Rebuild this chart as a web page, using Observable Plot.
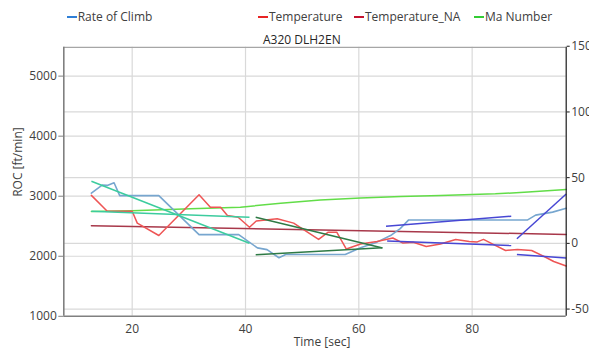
<!DOCTYPE html>
<html><head><meta charset="utf-8">
<script src="https://cdn.jsdelivr.net/npm/d3@7"></script>
<script src="https://cdn.jsdelivr.net/npm/@observablehq/plot@0.6"></script>
<style>
body{margin:0;background:#fff;font-family:"Open Sans",sans-serif;}
#wrap{position:relative;width:589px;height:354px;overflow:hidden;background:#fff;}
#head{position:relative;height:44px;}
.lg{position:absolute;top:8px;font-size:12px;color:#404040;line-height:18px;white-space:nowrap;}
.lg i{display:inline-block;width:10px;height:2px;vertical-align:middle;margin-right:1px;position:relative;top:-1px;}
#title{position:absolute;top:31px;left:263px;font-size:12px;color:#262626;line-height:18px;white-space:nowrap;}
</style></head>
<body>
<div id="wrap">
  <div id="head"></div>
  <div id="chart"></div>
</div>
<script>
// ---------- data ----------
const seriesNames = ["Rate of Climb", "Temperature", "Temperature_NA", "Ma Number"];
const chartTitle = "A320 DLH2EN";
const xLabel = "Time [sec]";
const yLabel = "ROC [ft/min]";

const timeDomain = [7.93, 96.6];
const leftDomain = [1000, 5480];     // ROC [ft/min]
const rightDomain = [-55.5, 149.2];  // right axis units
const xTicks = [20, 40, 60, 80];
const leftTicks = [1000, 2000, 3000, 4000, 5000];
const rightTicks = [-50, 0, 50, 100, 150];

// Rate of Climb (left axis)
const rocTime  = [12.8, 14.7, 15.6, 16.8, 17.8, 24.7, 31.8, 38.8, 42.1, 43.8, 45.9, 47.1, 57.6, 60.3, 63.2, 65.6, 67.3, 68.8, 89.8, 91.2, 94.2, 96.6];
const rocValue = [3050, 3185, 3180, 3225, 3010, 3010, 2360, 2360, 2140, 2110, 1975, 2030, 2030, 2140, 2235, 2345, 2460, 2605, 2605, 2685, 2735, 2800];

// Temperature (right axis)
const tempTime  = [12.8, 15.6, 20.0, 20.9, 24.7, 31.8, 33.8, 35.6, 36.8, 38.7, 40.7, 41.9, 45.6, 48.5, 52.9, 54.6, 56.1, 57.8, 60.3, 63.2, 66.0, 67.8, 69.6, 71.9, 74.4, 77.1, 79.5, 80.9, 82.0, 83.9, 85.9, 88.0, 90.5, 92.8, 94.4, 96.6];
const tempValue = [36.5, 24.5, 24.5, 15.4, 6.0, 37.0, 27.5, 27.5, 21.2, 19.9, 12.3, 17.0, 18.7, 15.4, 3.0, 8.5, 8.5, -4.3, -0.5, 1.4, 4.1, 0.2, 0.9, -2.4, -0.5, 3.0, 1.4, 1.1, 3.0, -1.2, -5.4, -4.6, -5.4, -10.2, -13.8, -17.2];

// Temperature_NA (right axis)
const tempNATime  = [12.8, 96.6];
const tempNAValue = [13.4, 6.8];

// Ma Number (right axis)
const maTime  = [12.8, 20.0, 30.3, 39.1, 46.2, 53.2, 60.3, 67.4, 74.4, 84.1, 89.9, 96.6];
const maValue = [24.3, 24.8, 26.3, 27.5, 30.6, 33.0, 34.5, 35.7, 36.5, 37.7, 39.0, 41.0];

// segment trend lines (left axis)
const trendKind  = ["teal", "teal", "darkgreen", "darkgreen", "blue", "blue", "blue", "blue"];
const trendT0    = [12.8, 12.8, 41.8, 41.8, 64.8, 65.0, 87.9, 87.9];
const trendV0    = [3250, 2750, 2650, 2024, 2500, 2254, 2291, 2029];
const trendT1    = [40.7, 40.7, 64.2, 64.1, 86.9, 86.9, 96.6, 96.6];
const trendV1    = [2217, 2650, 2138, 2141, 2667, 2179, 3037, 1971];

// ---------- styles ----------
const legendColors = ["#2f7fd6", "#e82424", "#c4122e", "#33cc33"];
const lineColors = {roc: "#77a6cf", temp: "#ee5555", tempNA: "#a8384a", ma: "#62dd48"};
const trendColors = {teal: "#3ccc9e", darkgreen: "#2e7a45", blue: "#4747d4"};
const legendX = [66.7, 258, 354, 474];

// ---------- header (legend + title) ----------
const head = document.getElementById("head");
seriesNames.forEach((n, i) => {
  const d = document.createElement("div");
  d.className = "lg";
  d.style.left = legendX[i] + "px";
  d.innerHTML = `<i style="background:${legendColors[i]}"></i>${n}`;
  head.appendChild(d);
});
const tt = document.createElement("div");
tt.id = "title"; tt.textContent = chartTitle;
head.appendChild(tt);

// ---------- chart ----------
const toLeft = d3.scaleLinear().domain(rightDomain).range(leftDomain);
const roc = rocTime.map((t, i) => ({t, v: rocValue[i]}));
const temp = tempTime.map((t, i) => ({t, v: toLeft(tempValue[i])}));
const tempNA = tempNATime.map((t, i) => ({t, v: toLeft(tempNAValue[i])}));
const ma = maTime.map((t, i) => ({t, v: toLeft(maValue[i])}));
const trends = trendKind.map((k, i) => ({k, t0: trendT0[i], v0: trendV0[i], t1: trendT1[i], v1: trendV1[i]}));

const gridStyle = {stroke: "#d9d9d9", strokeOpacity: 1, strokeWidth: 1.2};
const trendMarks = Object.keys(trendColors).map(k =>
  Plot.link(trends.filter(d => d.k === k), {x1: "t0", y1: "v0", x2: "t1", y2: "v1", stroke: trendColors[k], strokeWidth: 1.5})
);

const chart = Plot.plot({
  width: 589, height: 310,
  marginTop: 2.8, marginBottom: 38.2, marginLeft: 63.3, marginRight: 23.3,
  style: {fontFamily: "Open Sans", fontSize: "12px", overflow: "visible", background: "transparent", color: "#404040"},
  x: {domain: timeDomain, label: null},
  y: {domain: leftDomain, label: null},
  marks: [
    Plot.gridX(xTicks, gridStyle),
    Plot.gridY(leftTicks.slice(1), gridStyle),
    Plot.gridY(rightTicks.slice(0, 4).map(toLeft), gridStyle),
    Plot.line(tempNA, {x: "t", y: "v", stroke: lineColors.tempNA, strokeWidth: 1.5}),
    Plot.line(ma, {x: "t", y: "v", stroke: lineColors.ma, strokeWidth: 1.5}),
    Plot.line(roc, {x: "t", y: "v", stroke: lineColors.roc, strokeWidth: 1.6}),
    Plot.line(temp, {x: "t", y: "v", stroke: lineColors.temp, strokeWidth: 1.5}),
    ...trendMarks,
    Plot.ruleY([leftDomain[1]], {stroke: "#a6a6a6", strokeWidth: 1.2}),
    Plot.ruleY([leftDomain[0]], {stroke: "#808080", strokeWidth: 1.6}),
    Plot.ruleX([timeDomain[0]], {stroke: "#808080", strokeWidth: 1.6}),
    Plot.ruleX([timeDomain[1]], {stroke: "#1a1a1a", strokeWidth: 1.2}),
    Plot.axisY(leftTicks, {anchor: "left", tickSize: 5, tickPadding: 2, stroke: "#808080", fill: "#404040", label: null,
      tickFormat: d => String(d)}),
    Plot.axisY(rightTicks.map(toLeft), {anchor: "right", tickSize: 3, tickPadding: 2, stroke: "#1a1a1a", fill: "#404040", label: null,
      tickFormat: d => String(Math.round(toLeft.invert(d)))}),
    Plot.axisX(xTicks, {anchor: "bottom", tickSize: 0, tickPadding: 8, fill: "#404040", label: null}),
    Plot.text([yLabel], {frameAnchor: "left", rotate: -90, dx: -46, dy: 15, fill: "#404040", fontSize: 12}),
    Plot.text([xLabel], {frameAnchor: "bottom", dy: 30, dx: 7, fill: "#404040", fontSize: 12})
  ]
});
document.getElementById("chart").appendChild(chart);
</script>
</body></html>
